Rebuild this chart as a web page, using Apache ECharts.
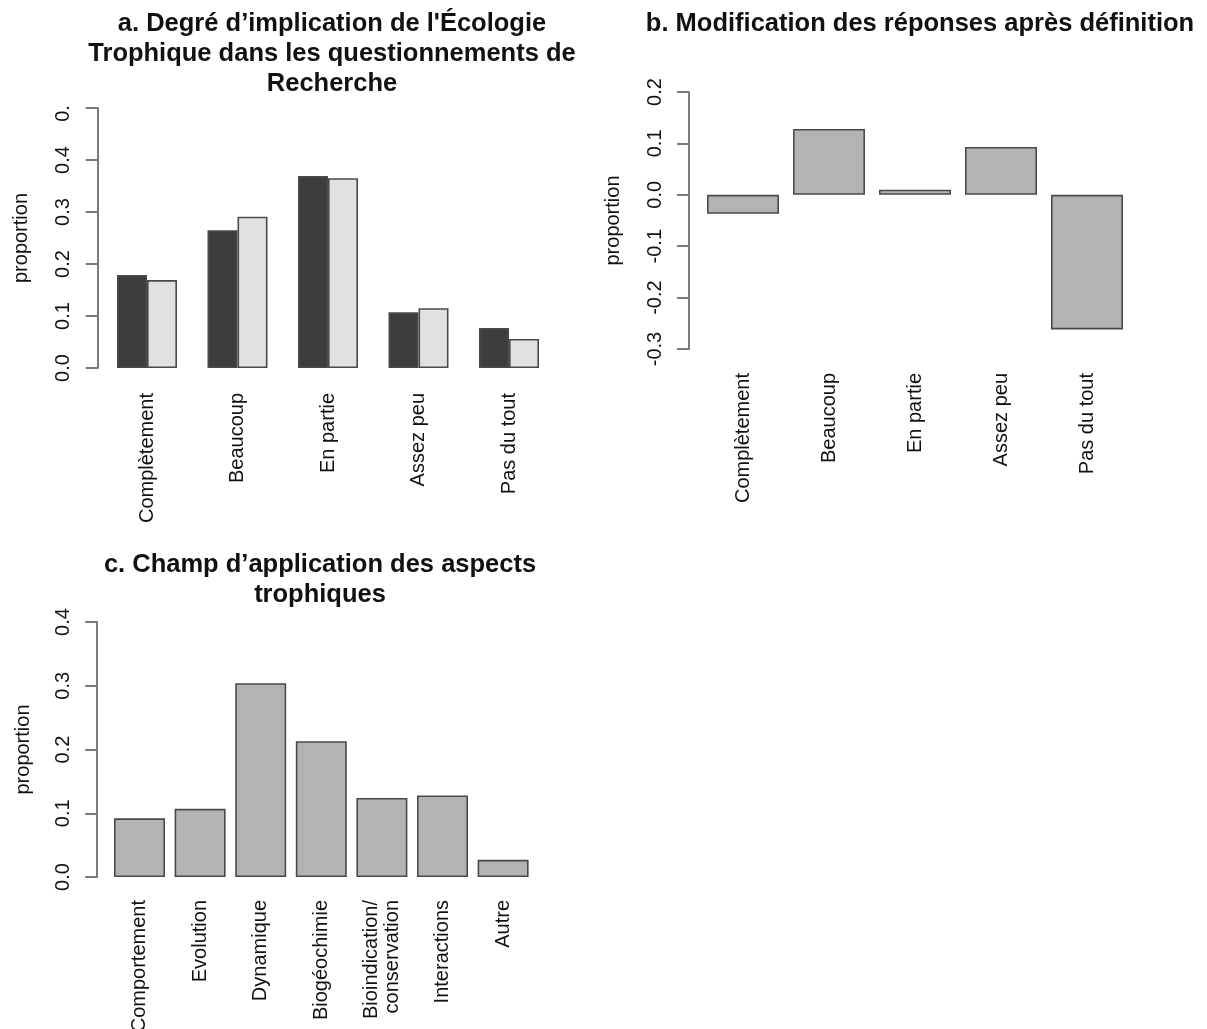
<!DOCTYPE html>
<html>
<head>
<meta charset="utf-8">
<script src="https://cdn.jsdelivr.net/npm/echarts@6/dist/echarts.min.js"></script>
<style>
html,body{margin:0;padding:0;background:#fff;}
#chart{width:1207px;height:1029px;}
</style>
</head>
<body>
<div id="chart"></div>
<script>
// ---- data ----
const catsA = ["Complètement", "Beaucoup", "En partie", "Assez peu", "Pas du tout"];
const avantA = [0.179, 0.265, 0.369, 0.107, 0.077];
const apresA = [0.169, 0.291, 0.365, 0.115, 0.056];
const ticksA = ["0.0", "0.1", "0.2", "0.3", "0.4", "0."];

const catsB = ["Complètement", "Beaucoup", "En partie", "Assez peu", "Pas du tout"];
const diffB = [-0.037, 0.128, 0.010, 0.093, -0.262];
const ticksB = ["-0.3", "-0.2", "-0.1", "0.0", "0.1", "0.2"];

const catsC = ["Comportement", "Evolution", "Dynamique", "Biogéochimie", "Bioindication/\nconservation", "Interactions", "Autre"];
const valsC = [0.092, 0.107, 0.304, 0.213, 0.124, 0.128, 0.027];
const ticksC = ["0.0", "0.1", "0.2", "0.3", "0.4"];

const titleA = "a. Degré d’implication de l'Écologie\nTrophique dans les questionnements de\nRecherche";
const titleB = "b. Modification des réponses après définition";
const titleC = "c. Champ d’application des aspects\ntrophiques";
const yName = "proportion";

// ---- styles ----
const FONT = "Liberation Sans, Arial, Helvetica, sans-serif";
const axisGrey = "#7a7a7a";
const borderGrey = "#4a4a4a";

function titleStyle(size) {
  return { fontFamily: FONT, fontWeight: "bold", fontSize: size, lineHeight: 30, color: "#111" };
}
function catAxis(idx, cats, margin) {
  return {
    type: "category", gridIndex: idx, data: cats,
    axisLine: { show: false }, axisTick: { show: false },
    axisLabel: { interval: 0, rotate: 90, margin: margin, fontFamily: FONT, fontSize: 20, color: "#111", lineHeight: 21 }
  };
}
function valAxis(idx, min, max, labels, offset, nameGap) {
  return {
    type: "value", gridIndex: idx, min: min, max: max, interval: 0.1, offset: offset,
    name: yName, nameLocation: "middle", nameRotate: 90, nameGap: nameGap,
    nameTextStyle: { fontFamily: FONT, fontSize: 20, color: "#111" },
    splitLine: { show: false },
    axisLine: { show: true, lineStyle: { color: axisGrey, width: 2 } },
    axisTick: { show: true, length: 12, lineStyle: { color: axisGrey, width: 2 } },
    axisLabel: {
      rotate: 90, margin: 24, fontFamily: FONT, fontSize: 20, color: "#111",
      formatter: function (v, i) {
        const t = labels[i];
        return t.length < 3 ? "{s|" + t + "}" : t;
      },
      rich: { s: { fontFamily: FONT, fontSize: 20, color: "#111", padding: [0, 11, 0, 0] } }
    }
  };
}
const barItem = (c) => ({ color: c, borderColor: borderGrey, borderWidth: 1.6 });

const option = {
  animation: false,
  backgroundColor: "#fff",
  title: [
    { text: titleA, left: 332, top: 9, padding: 0, textAlign: "center", textStyle: titleStyle(25.5) },
    { text: titleB, left: 920, top: 9, padding: 0, textAlign: "center", textStyle: titleStyle(25.5) },
    { text: titleC, left: 320, top: 550, padding: 0, textAlign: "center", textStyle: titleStyle(25.5) }
  ],
  grid: [
    { left: 101.75, top: 108, width: 452.5, height: 260, outerBoundsMode: "none" },
    { left: 700, top: 92, width: 430, height: 257, outerBoundsMode: "none" },
    { left: 109.2, top: 622, width: 424.2, height: 255, outerBoundsMode: "none" }
  ],
  xAxis: [catAxis(0, catsA, 25), catAxis(1, catsB, 24), catAxis(2, catsC, 23)],
  yAxis: [
    valAxis(0, 0, 0.5, ticksA, 4, 66),
    valAxis(1, -0.3, 0.2, ticksB, 11, 66),
    valAxis(2, 0, 0.4, ticksC, 12, 64)
  ],
  series: [
    { type: "bar", xAxisIndex: 0, yAxisIndex: 0, data: avantA, barWidth: 30, barGap: "0%", itemStyle: barItem("#3d3d3d") },
    { type: "bar", xAxisIndex: 0, yAxisIndex: 0, data: apresA, barWidth: 30, barGap: "0%", itemStyle: barItem("#e1e1e1") },
    { type: "bar", xAxisIndex: 1, yAxisIndex: 1, data: diffB, barWidth: 72, itemStyle: barItem("#b3b3b3") },
    { type: "bar", xAxisIndex: 2, yAxisIndex: 2, data: valsC, barWidth: 51, itemStyle: barItem("#b3b3b3") }
  ]
};
const chart = echarts.init(document.getElementById("chart"), null, { renderer: "canvas" });
chart.setOption(option);
</script>
</body>
</html>
